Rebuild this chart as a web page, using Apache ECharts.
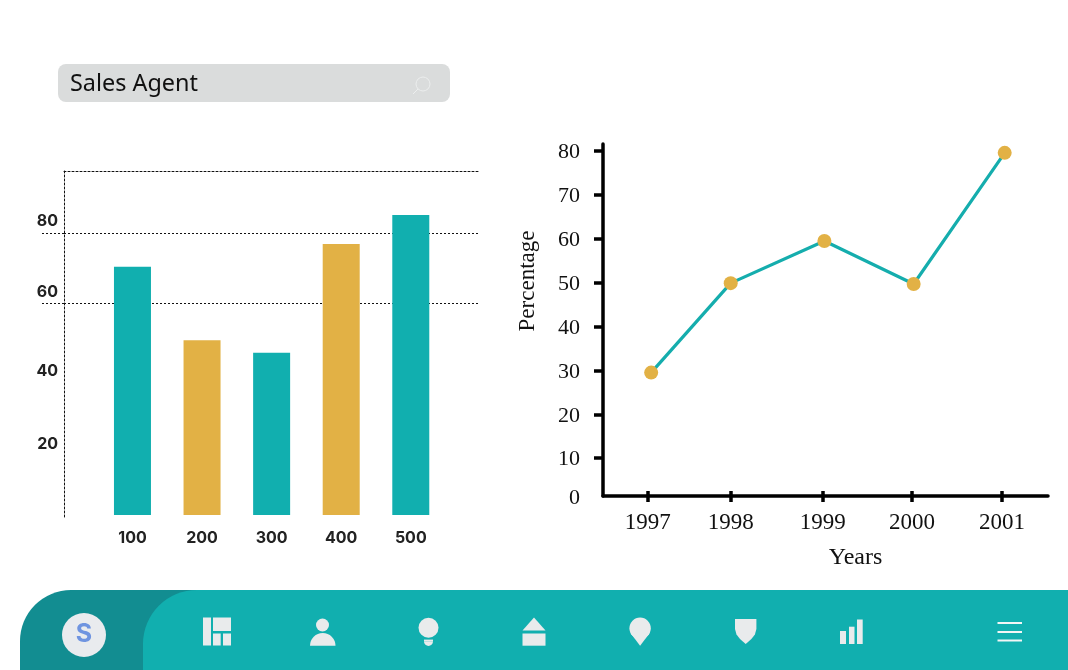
<!DOCTYPE html>
<html>
<head>
<meta charset="utf-8">
<title>Sales Agent</title>
<script src="https://cdn.jsdelivr.net/npm/echarts@6/dist/echarts.min.js"></script>
<style>
  html, body { margin: 0; padding: 0; background: #fff; }
  #main { width: 1068px; height: 670px; }
</style>
</head>
<body>
<div id="main"></div>
<script>
// left chart
var barCategories = [100, 200, 300, 400, 500];
var barValues = [70.4, 49.6, 46, 76.9, 85.1];
var barTicks = [20, 40, 60, 80];
var barGridLines = [60, 80];

// right chart
var lineYears = [1997.03, 1997.93, 1998.99, 2000.0, 2001.03];
var lineValues = [29.5, 49.9, 59.5, 49.7, 79.6];
var yearTicks = [1996.99, 1997.93, 1998.97, 1999.98, 2001];
var percentTicks = [10, 20, 30, 40, 50, 60, 70, 80];
var percentLabels = [1.37, 10, 20, 30, 40, 50, 60, 70, 80];

var TEAL = '#11afaf';
var GOLD = '#e2b145';
var ICON = '#e9ebec';
var SERIF = '"Liberation Serif", serif';
var SANS = 'Inter, sans-serif';

var myChart = echarts.init(document.getElementById('main'));

function box(x, y, w, h, fill, r) {
  return { type: 'rect', shape: { x: x, y: y, width: w, height: h, r: r || 0 }, style: { fill: fill } };
}
function poly(points, fill) {
  return { type: 'polygon', shape: { points: points }, style: { fill: fill } };
}
function dot(cx, cy, r, fill) {
  return { type: 'circle', shape: { cx: cx, cy: cy, r: r }, style: { fill: fill } };
}
function lowerHalf(cx, cy, r, fill) {
  return { type: 'sector', shape: { cx: cx, cy: cy, r: r, startAngle: 0, endAngle: Math.PI }, style: { fill: fill } };
}
function upperHalf(cx, cy, r, fill) {
  return { type: 'sector', shape: { cx: cx, cy: cy, r: r, startAngle: Math.PI, endAngle: Math.PI * 2 }, style: { fill: fill } };
}

var decoration = [
  // search box
  box(58, 64, 392, 38, '#dadcdc', 8),
  { type: 'text', x: 70, y: 84, style: { text: 'Sales Agent', fill: '#111', font: '23.4px "Noto Sans", sans-serif', verticalAlign: 'middle' } },
  { type: 'circle', shape: { cx: 423, cy: 84, r: 7 }, style: { fill: 'none', stroke: '#eceeee', lineWidth: 1 } },
  { type: 'line', shape: { x1: 418, y1: 89, x2: 413, y2: 94 }, style: { stroke: '#eceeee', lineWidth: 1 } },

  // bottom bar
  box(20, 590, 240, 80, '#128d91', [51, 0, 0, 0]),
  box(143, 590, 925, 80, TEAL, [54, 0, 0, 0]),
  dot(84, 635, 22, '#e9ebee'),
  { type: 'text', x: 84, y: 634, style: { text: 'S', fill: '#6f94e0', font: 'bold 25px Inter, sans-serif', align: 'center', verticalAlign: 'middle' } },

  // panel icon
  box(203, 617.5, 8, 28, ICON),
  box(213, 617.5, 18, 13.5, ICON),
  box(213, 633.5, 7.7, 12, ICON),
  box(223, 633.5, 8, 12, ICON),
  // person
  dot(322.5, 625, 6.5, ICON),
  upperHalf(322.75, 645.7, 12.75, ICON),
  // bulb
  dot(428.5, 627.7, 10, ICON),
  box(424, 639.6, 9, 2, ICON),
  lowerHalf(428.5, 641.4, 4.5, ICON),
  // house
  poly([[534, 617.5], [545.5, 630.4], [522.5, 630.4]], ICON),
  box(522.5, 633.5, 23, 12.2, ICON),
  // pin
  dot(640.1, 628.2, 10.7, ICON),
  poly([[630.6, 633.2], [649.6, 633.2], [640.1, 645.7]], ICON),
  // shield
  poly([[735, 619], [756.4, 619], [756.4, 629], [754.9, 634.5], [751.4, 639], [745.7, 644],
        [740, 639], [736.5, 634.5], [735, 629]], ICON),
  // bars
  box(840, 631, 6, 13, ICON),
  box(849, 626.7, 5.5, 17.3, ICON),
  box(857, 619.5, 5.7, 24.5, ICON),
  // menu
  box(997.5, 622, 24.5, 2, '#f2f6f6'),
  box(997.5, 631, 24.5, 2, '#f2f6f6'),
  box(997.5, 639.5, 24.5, 2, '#f2f6f6')
];

var dotted = { color: '#111', width: 1, type: [2, 2] };

function barLabel(v) {
  return '{s' + v + '|' + v + '}';
}
function barLabelStyle(padBottom) {
  return { fontFamily: SANS, fontWeight: 700, fontSize: 16, color: '#222', padding: [0, 0, padBottom, 0] };
}

var option = {
  animation: false,
  backgroundColor: '#fff',
  graphic: { elements: decoration },
  grid: [
    { left: 64, top: 171, width: 414, height: 346 },
    { left: 603, top: 144, width: 445, height: 352 }
  ],
  xAxis: [
    {
      gridIndex: 0, type: 'value', min: 1.6, max: 596.6,
      splitLine: { show: false },
      axisLine: { show: false },
      axisTick: { show: false },
      axisLabel: {
        customValues: barCategories, margin: 13,
        fontFamily: SANS, fontWeight: 700, fontSize: 16, color: '#222'
      }
    },
    {
      // dotted top edge of the left frame
      gridIndex: 0, type: 'value', position: 'top', min: 1.6, max: 596.6,
      splitLine: { show: false },
      axisLine: { show: true, onZero: false, lineStyle: dotted },
      axisTick: { show: false },
      axisLabel: { show: false }
    },
    {
      gridIndex: 1, type: 'value', position: 'bottom', min: 1996.485, max: 2001.52,
      splitLine: { show: false },
      axisLine: { show: true, onZero: false, lineStyle: { color: '#000', width: 3.5 } },
      axisTick: { show: true, customValues: yearTicks, length: 6, lineStyle: { color: '#000', width: 3.5 } },
      axisLabel: {
        customValues: yearTicks, margin: 15, color: '#111', fontFamily: SERIF, fontSize: 23,
        formatter: function (v) { return String(Math.round(v)); }
      },
      name: 'Years', nameLocation: 'middle', nameGap: 50,
      nameTextStyle: { color: '#111', fontFamily: SERIF, fontSize: 24, padding: [0, 0, 0, 60] }
    },
    {
      // upper half of the year ticks, they cross the axis line
      gridIndex: 1, type: 'value', position: 'bottom', min: 1996.485, max: 2001.52,
      splitLine: { show: false },
      axisLine: { show: false },
      axisTick: { show: true, inside: true, customValues: yearTicks, length: 5, lineStyle: { color: '#000', width: 3.5 } },
      axisLabel: { show: false }
    }
  ],
  yAxis: [
    {
      gridIndex: 0, type: 'value', min: -0.57, max: 97.6,
      axisLine: { show: true, onZero: false, lineStyle: dotted },
      axisTick: { show: true, customValues: barGridLines, length: 23, lineStyle: dotted },
      splitLine: { show: true, lineStyle: dotted },
      axisLabel: {
        customValues: barTicks, margin: 6, formatter: barLabel,
        rich: { s80: barLabelStyle(24), s60: barLabelStyle(23), s40: barLabelStyle(6), s20: barLabelStyle(0) }
      }
    },
    {
      gridIndex: 1, type: 'value', min: 1.37, max: 81.62,
      splitLine: { show: false },
      axisLine: { show: true, onZero: false, lineStyle: { color: '#000', width: 3.5 } },
      axisTick: { show: true, customValues: percentTicks, length: 9, lineStyle: { color: '#000', width: 3.5 } },
      axisLabel: {
        customValues: percentLabels, margin: 23, color: '#111', fontFamily: SERIF, fontSize: 22,
        formatter: function (v) { return v < 10 ? '{zero|0}' : '{num|' + v + '}'; },
        rich: {
          zero: { color: '#111', fontFamily: SERIF, fontSize: 22, padding: [4, 0, 0, 0] },
          num: { color: '#111', fontFamily: SERIF, fontSize: 22, padding: [3, 0, 0, 0] }
        }
      },
      name: 'Percentage', nameLocation: 'middle', nameGap: 64,
      nameTextStyle: { color: '#111', fontFamily: SERIF, fontSize: 23, padding: [0, 0, 0, 78] }
    }
  ],
  series: [
    {
      type: 'bar',
      xAxisIndex: 0, yAxisIndex: 0,
      barWidth: 37,
      data: barValues.map(function (v, i) {
        return { value: [barCategories[i], v], itemStyle: { color: i % 2 ? GOLD : TEAL } };
      })
    },
    {
      type: 'line',
      xAxisIndex: 2, yAxisIndex: 1,
      symbol: 'circle', symbolSize: 14,
      lineStyle: { color: '#15adad', width: 3.2 },
      itemStyle: { color: GOLD },
      data: lineYears.map(function (y, i) { return [y, lineValues[i]]; })
    }
  ]
};

myChart.setOption(option);
</script>
</body>
</html>
